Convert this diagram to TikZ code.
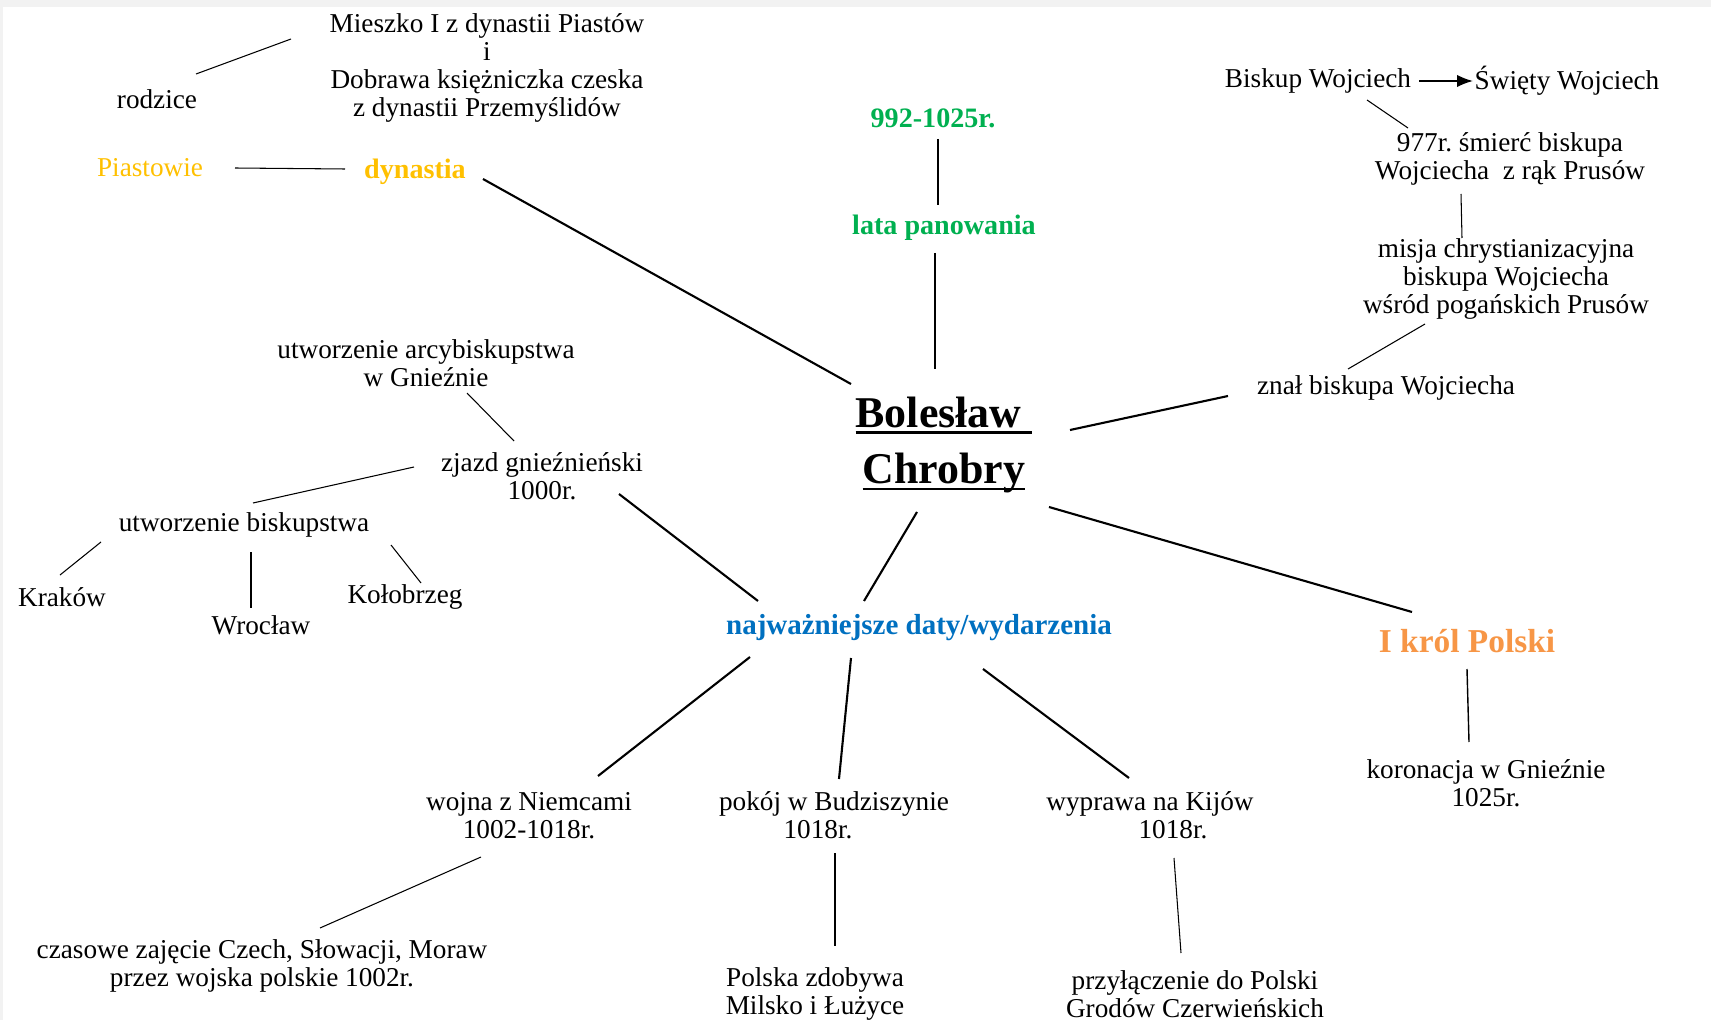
\documentclass[tikz,border=0pt]{standalone}
\usepackage{fontspec}
\setmainfont{Liberation Serif}
\usetikzlibrary{calc,arrows.meta}
\definecolor{gold}{HTML}{FFC000}
\definecolor{leaf}{HTML}{00B050}
\definecolor{sea}{HTML}{0070C0}
\definecolor{peach}{HTML}{F79646}
\newcommand{\barunder}[1]{\setbox0\hbox{#1}\rlap{\rule[-3.6pt]{\wd0}{1.3pt}}\box0}
\frenchspacing

\begin{document}
\begin{tikzpicture}[x=0.02cm, y=-0.02cm,
    txt/.style={align=center, font=\fontsize{15.5}{16}\selectfont},
    head/.style={align=center, font=\fontsize{16}{19}\selectfont\bfseries},
    twig/.style={line width=0.6pt},
    bough/.style={line width=1.2pt}]
    \useasboundingbox (0,0) rectangle (1711,1020);
    \fill[gray!10] (0,0) rectangle (1711,7);
    \fill[gray!10] (0,0) rectangle (3,1020);

    \node[txt] (mieszko) at (487,68) {Mieszko I z dynastii Piastów\\i\\Dobrawa księżniczka czeska\\z dynastii Przemyślidów};
    \node[txt] (rodz) at (157,99) {rodzice};
    \node[txt, text=gold] (piast) at (150,168) {Piastowie};
    \node[head, text=gold] (dyn) at (415,172) {dynastia};
    \node[head, text=leaf] (data) at (933,118) {992-1025r.};
    \node[head, text=leaf] (lata) at (944,228) {lata panowania};
    \node[align=center, font=\fontsize{25}{32}\selectfont\bfseries] (bc) at (944,445) {\barunder{Bolesław\ }\\\barunder{Chrobry}};

    \node[txt] (biskup) at (1318,81) {Biskup Wojciech};
    \node[txt] (swiety) at (1567,81) {Święty Wojciech};
    \node[txt] (smierc) at (1510,159) {977r. śmierć biskupa\\Wojciecha~ z rąk Prusów};
    \node[txt] (misja) at (1506,279) {misja chrystianizacyjna\\biskupa Wojciecha\\wśród pogańskich Prusów};
    \node[txt] (znal) at (1386,388) {znał biskupa Wojciecha};

    \node[txt] (arcyb) at (426,363) {utworzenie arcybiskupstwa\\w Gnieźnie};
    \node[txt] (zjazd) at (542,476) {zjazd gnieźnieński\\1000r.};
    \node[txt] (ubisk) at (244,525) {utworzenie biskupstwa};
    \node[txt] (krakow) at (62,597) {Kraków};
    \node[txt] (wroclaw) at (261,625) {Wrocław};
    \node[txt] (kolob) at (405,597) {Kołobrzeg};

    \node[head, text=sea, font=\fontsize{16.5}{19}\selectfont\bfseries] (najw) at (919,628) {najważniejsze daty/wydarzenia};
    \node[head, text=peach, font=\fontsize{19}{22}\selectfont\bfseries] (krol) at (1467,641) {I król Polski};
    \node[txt] (koron) at (1486,783) {koronacja w Gnieźnie\\1025r.};
    \node[txt] (wojna) at (529,816) {wojna z Niemcami\\1002-1018r.};
    \node[txt] (pokoj) at (834,815) {pokój w Budziszynie\\1018r.\hspace*{0.64cm}};
    \node[txt] (wyprawa) at (1150,815) {wyprawa na Kijów\\\hspace*{0.92cm}1018r.};
    \node[txt] (czas) at (262,966) {czasowe zajęcie Czech, Słowacji, Moraw\\przez wojska polskie 1002r.};
    \node[txt] (polska) at (815,994) {Polska zdobywa\\Milsko i Łużyce};
    \node[txt] (przyl) at (1195,994) {przyłączenie do Polski\\Grodów Czerwieńskich};

    \draw[twig] ($(rodz)+(39,-25)$) -- ($(mieszko)+(-196,-29)$);
    \draw[twig] ($(piast)+(85,0)$) -- ($(dyn)+(-70,-3)$);
    \draw[bough] ($(dyn)+(68,7)$) -- ($(bc)+(-93,-61)$);
    \draw[bough] ($(data)+(5,21)$) -- ($(lata)+(-6,-23)$);
    \draw[bough] ($(lata)+(-9,25)$) -- ($(bc)+(-9,-76)$);
    \draw[line width=1pt, -{Latex[length=9pt,width=7pt]}] ($(biskup)+(101,0)$) -- ($(swiety)+(-94,0)$);
    \draw[twig] ($(biskup)+(49,19)$) -- ($(smierc)+(-102,-31)$);
    \draw[twig] ($(smierc)+(-49,35)$) -- ($(misja)+(-44,-41)$);
    \draw[twig] ($(misja)+(-81,45)$) -- ($(znal)+(-38,-19)$);
    \draw[bough] ($(znal)+(-158,8)$) -- ($(bc)+(126,-15)$);

    \draw[twig] ($(arcyb)+(41,30)$) -- ($(zjazd)+(-28,-35)$);
    \draw[twig] ($(zjazd)+(-128,-9)$) -- ($(ubisk)+(9,-22)$);
    \draw[bough] ($(zjazd)+(77,18)$) -- ($(najw)+(-161,-27)$);
    \draw[twig] ($(ubisk)+(-143,17)$) -- ($(krakow)+(-2,-22)$);
    \draw[twig] ($(ubisk)+(7,27)$) -- ($(wroclaw)+(-10,-17)$);
    \draw[twig] ($(ubisk)+(147,20)$) -- ($(kolob)+(16,-14)$);

    \draw[bough] ($(bc)+(-27,67)$) -- ($(najw)+(-55,-27)$);
    \draw[bough] ($(bc)+(105,62)$) -- ($(krol)+(-55,-29)$);
    \draw[twig, line width=0.8pt] ($(krol)+(0,28)$) -- ($(koron)+(-17,-41)$);
    \draw[bough] ($(najw)+(-169,29)$) -- ($(wojna)+(69,-40)$);
    \draw[bough] ($(najw)+(-68,30)$) -- ($(pokoj)+(5,-36)$);
    \draw[bough] ($(najw)+(64,41)$) -- ($(wyprawa)+(-21,-37)$);
    \draw[twig] ($(wojna)+(-48,41)$) -- ($(czas)+(58,-38)$);
    \draw[twig] ($(pokoj)+(1,38)$) -- ($(polska)+(20,-48)$);
    \draw[twig] ($(wyprawa)+(24,43)$) -- ($(przyl)+(-14,-41)$);
\end{tikzpicture}
\end{document}
